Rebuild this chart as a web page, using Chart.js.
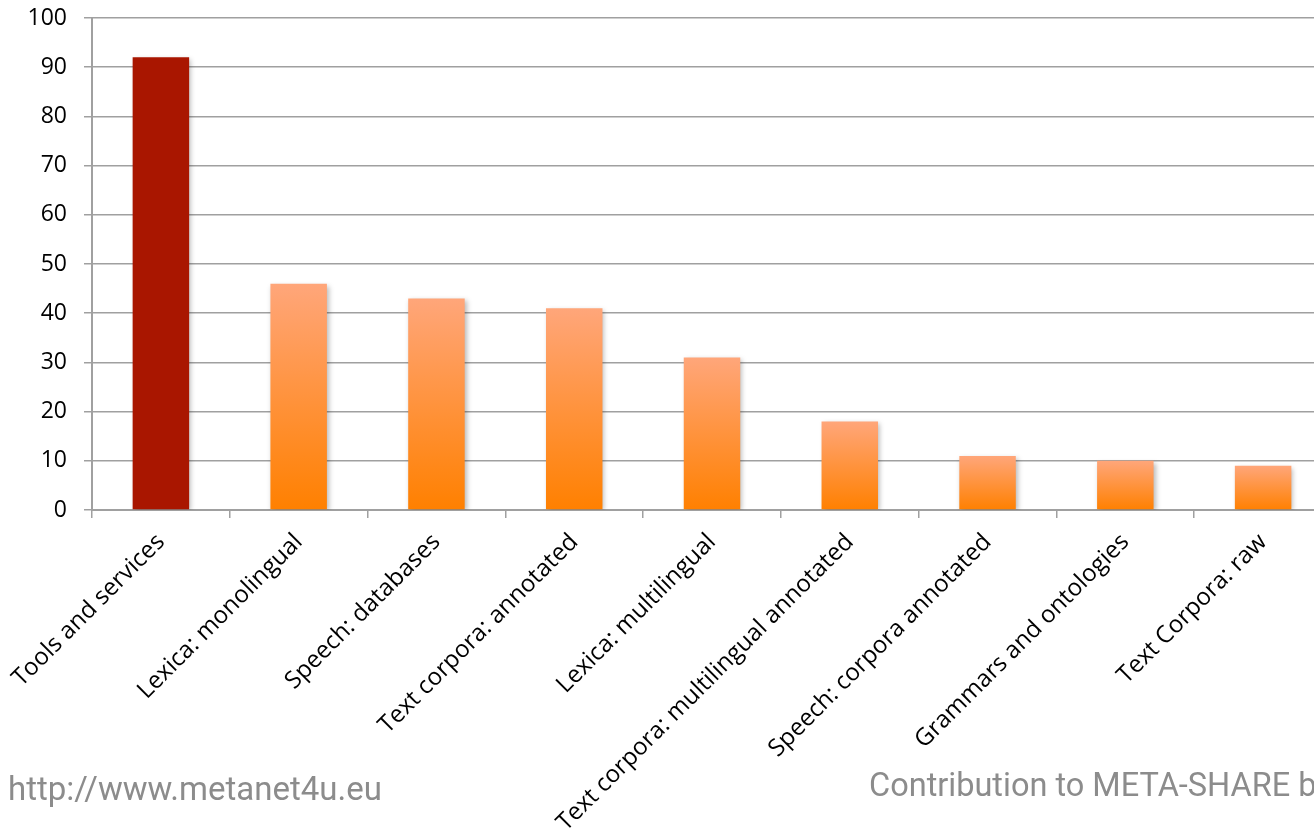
<!DOCTYPE html>
<html>
<head>
<meta charset="utf-8">
<script src="https://cdn.jsdelivr.net/npm/chart.js@4"></script>
<style>
  html, body { margin:0; padding:0; background:#fff; overflow:hidden; width:1314px; height:833px; }
  #wrap { position:absolute; left:0; top:0; width:1340px; height:833px; }
  .foot { position:absolute; color:#8c8c8c; font-family:"Roboto","Noto Sans",sans-serif; white-space:nowrap; font-weight:400; line-height:1; }
</style>
</head>
<body>
<div id="wrap"><canvas id="c" width="1340" height="833"></canvas></div>
<div class="foot" id="f1" style="left:8px; top:772px; font-size:33px;">http://www.metanet4u.eu</div>
<div class="foot" id="f2" style="left:869px; top:769px; font-size:32.5px;">Contribution to META-SHARE by language resource type</div>
<script>
const categories = ["Tools and services","Lexica: monolingual","Speech: databases","Text corpora: annotated","Lexica: multilingual","Text corpora: multilingual annotated","Speech: corpora annotated","Grammars and ontologies","Text Corpora: raw"];
const counts = [92, 46, 43, 41, 31, 18, 11, 10, 9];
const yTicks = [0,10,20,30,40,50,60,70,80,90,100];

const shadowPlugin = {
  id: 'shadow',
  beforeDatasetsDraw(chart) {
    const c = chart.ctx; c.save();
    c.shadowColor = 'rgba(0,0,0,0.28)'; c.shadowBlur = 5; c.shadowOffsetX = 2; c.shadowOffsetY = 2;
  },
  afterDatasetsDraw(chart) { chart.ctx.restore(); }
};

function barColor(context) {
  const chart = context.chart;
  if (!chart.chartArea) return '#ff8000';
  if (context.dataIndex === 0) return '#a91600';
  const ys = chart.scales.y;
  const top = ys.getPixelForValue(counts[context.dataIndex]);
  const bottom = ys.getPixelForValue(0);
  const g = chart.ctx.createLinearGradient(0, top, 0, bottom);
  g.addColorStop(0, '#ffa67a');
  g.addColorStop(1, '#ff8000');
  return g;
}

new Chart(document.getElementById('c'), {
  type: 'bar',
  data: {
    labels: categories,
    datasets: [{ data: counts, backgroundColor: barColor, barPercentage: 0.41, categoryPercentage: 1.0, borderWidth: 0 }]
  },
  plugins: [shadowPlugin],
  options: {
    responsive: false,
    animation: false,
    layout: { padding: { top: 0, right: 8, left: 0, bottom: 0 } },
    plugins: { legend: { display: false }, tooltip: { enabled: false } },
    scales: {
      x: {
        grid: { drawOnChartArea: false, drawTicks: true, tickLength: 8, color: '#a0a0a0', lineWidth: 1.5, offset: true },
        border: { color: '#a0a0a0', width: 2 },
        ticks: { color: '#000', font: { family: '"Open Sans", sans-serif', size: 24 }, minRotation: 45, maxRotation: 45, autoSkip: false, padding: 10 },
        afterFit(scale) {
          scale.height = 323;
          scale.paddingTop = 0; scale.paddingBottom = 0; scale.paddingLeft = 0; scale.paddingRight = 0;
        }
      },
      y: {
        min: 0, max: 100,
        afterBuildTicks(scale) { scale.ticks = yTicks.map(v => ({ value: v })); },
        grid: { color: '#a0a0a0', lineWidth: 1.5, drawTicks: true, tickLength: 8 },
        border: { color: '#a0a0a0', width: 2 },
        ticks: { color: '#000', font: { family: '"Open Sans", sans-serif', size: 23 }, padding: 17 },
        afterFit(scale) {
          scale.width = 92;
          scale.paddingTop = 18; scale.paddingBottom = 0;
        }
      }
    }
  }
});
</script>
</body>
</html>
